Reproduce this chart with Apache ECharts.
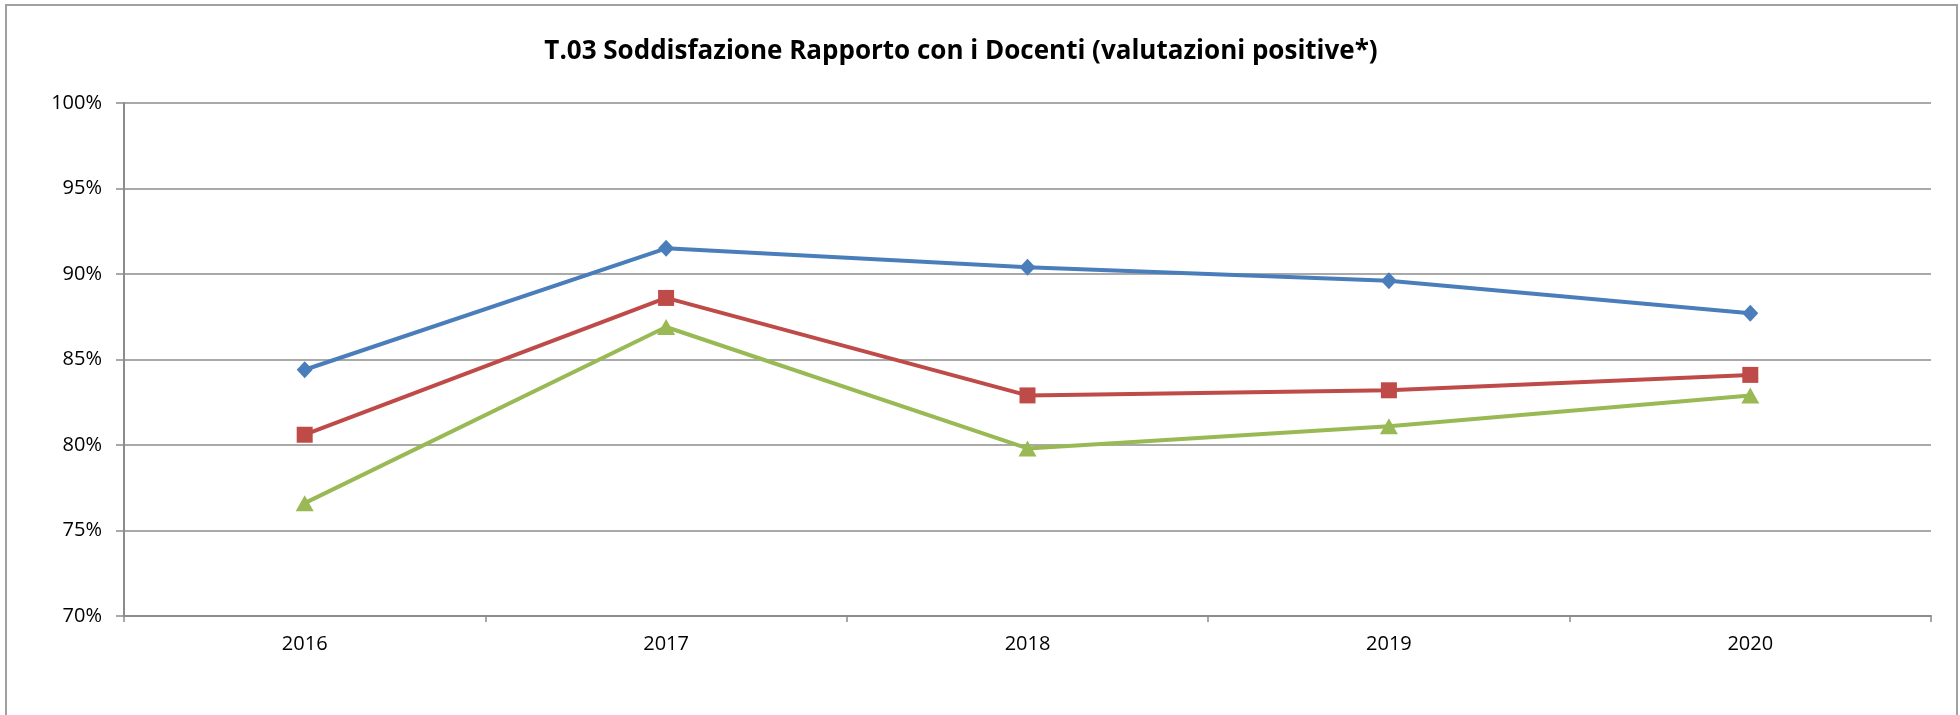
<!DOCTYPE html>
<html>
<head>
<meta charset="utf-8">
<script src="https://cdn.jsdelivr.net/npm/echarts@6/dist/echarts.min.js"></script>
<style>
html,body{margin:0;padding:0;background:#fff;}
#chart{width:1960px;height:715px;}
</style>
</head>
<body>
<div id="chart"></div>
<script>
const titleText = 'T.03 Soddisfazione Rapporto con i Docenti (valutazioni positive*)';
const categories = ['2016', '2017', '2018', '2019', '2020'];
const seriesBlue = [84.4, 91.5, 90.4, 89.6, 87.7];
const seriesRed = [80.6, 88.6, 82.9, 83.2, 84.1];
const seriesGreen = [76.6, 86.9, 79.8, 81.1, 82.9];
const yTicks = [70, 75, 80, 85, 90, 95, 100];

const chart = echarts.init(document.getElementById('chart'), null, {renderer: 'canvas'});
const font = '"Open Sans", "Noto Sans", sans-serif';
const gridColor = '#8c8c8c';

function mk(name, data, color, symbol, size) {
  return {
    name: name,
    type: 'line',
    data: data,
    symbol: symbol,
    symbolSize: size,
    showSymbol: true,
    lineStyle: {color: color, width: 4},
    itemStyle: {color: color, borderWidth: 0},
    emphasis: {disabled: true},
    animation: false,
    z: 3
  };
}

chart.setOption({
  animation: false,
  backgroundColor: '#fff',
  title: {
    text: titleText,
    left: 956,
    textAlign: 'center',
    top: 34,
    textStyle: {fontFamily: font, fontWeight: 'bold', fontSize: 26, color: '#000'}
  },
  graphic: [{
    type: 'rect',
    shape: {x: 6, y: 5, width: 1951, height: 730},
    style: {fill: 'none', stroke: '#a0a0a0', lineWidth: 2},
    silent: true,
    z: 0
  }],
  grid: {left: 124, right: 29, top: 103, bottom: 99, containLabel: false},
  xAxis: {
    type: 'category',
    data: categories,
    boundaryGap: true,
    axisLine: {show: true, lineStyle: {color: gridColor, width: 2}},
    axisTick: {show: true, inside: false, length: 6, alignWithLabel: false, lineStyle: {color: gridColor, width: 1.5}},
    axisLabel: {fontFamily: font, fontSize: 20, color: '#000', margin: 18},
    splitLine: {show: false}
  },
  yAxis: {
    type: 'value',
    min: yTicks[0],
    max: yTicks[yTicks.length - 1],
    interval: 5,
    axisLine: {show: true, lineStyle: {color: gridColor, width: 2}},
    axisTick: {show: true, inside: false, length: 8, lineStyle: {color: gridColor, width: 1.5}},
    axisLabel: {fontFamily: font, fontSize: 20, color: '#000', margin: 22, formatter: v => v + '%'},
    splitLine: {show: true, lineStyle: {color: gridColor, width: 1.5}}
  },
  series: [
    mk('A', seriesBlue, '#4a7ebb', 'diamond', [16, 17]),
    mk('B', seriesRed, '#be4b48', 'rect', 16),
    mk('C', seriesGreen, '#98b954', 'triangle', [18, 16])
  ]
});
</script>
</body>
</html>
